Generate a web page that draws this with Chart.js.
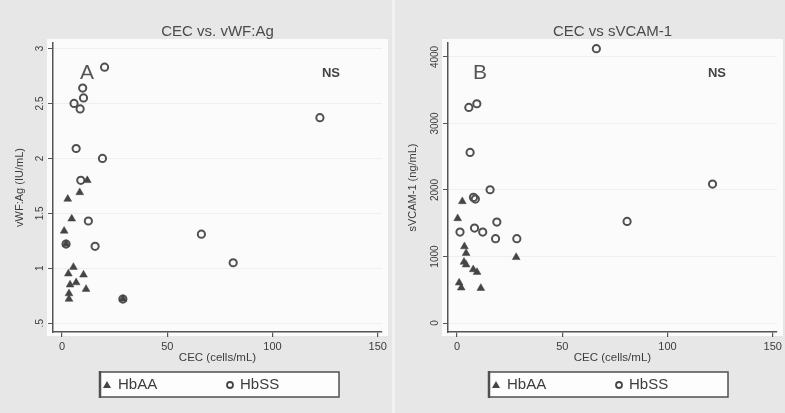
<!DOCTYPE html>
<html>
<head>
<meta charset="utf-8">
<script src="https://cdn.jsdelivr.net/npm/chart.js@4/dist/chart.umd.min.js"></script>
<style>
html, body { margin: 0; padding: 0; background: #f2f2f2; }
#wrap { position: relative; width: 785px; height: 413px; overflow: hidden; }
.panel { position: absolute; top: 0; height: 413px; background: #e7e7e7; }
</style>
</head>
<body>
<div id="wrap">
  <div class="panel" style="left:0;width:392px"><canvas id="chartA" width="392" height="413"></canvas></div>
  <div class="panel" style="left:395px;width:390px"><canvas id="chartB" width="390" height="413"></canvas></div>
</div>
<script>
// shared x axis
const cecTicks = [0, 50, 100, 150]

// Panel A : CEC vs vWF:Ag
const aaCecA = [12, 2.7, 8.4, 4.6, 1.0, 1.9, 5.4, 3.0, 10.2, 6.7, 3.8, 11.4, 3.3, 3.3, 28.9]
const aaVwf  = [1.80, 1.63, 1.69, 1.45, 1.34, 1.22, 1.01, 0.95, 0.94, 0.87, 0.85, 0.81, 0.77, 0.72, 0.72]
const ssCecA = [20.2, 9.8, 10.2, 5.7, 8.6, 6.7, 19.2, 8.9, 12.5, 15.7, 1.9, 66.2, 81.3, 122.5, 28.9]
const ssVwf  = [2.83, 2.64, 2.55, 2.50, 2.45, 2.09, 2.00, 1.80, 1.43, 1.20, 1.22, 1.31, 1.05, 2.37, 0.72]
const vwfTicks = [0.5, 1, 1.5, 2, 2.5, 3]
const vwfTickLabels = ['.5', '1', '1.5', '2', '2.5', '3']

// Panel B : CEC vs sVCAM-1
const aaCecB = [2.5, 0.3, 3.5, 4.3, 3.3, 4.3, 7.7, 9.5, 1.0, 2.0, 11.3, 28.1]
const aaVcam = [1828, 1572, 1150, 1050, 917, 877, 805, 765, 605, 530, 524, 988]
const ssCecB = [66.2, 5.6, 9.4, 6.2, 15.7, 7.8, 8.7, 121.4, 80.8, 18.9, 1.4, 8.3, 12.2, 18.3, 28.4]
const ssVcam = [4125, 3242, 3297, 2565, 2004, 1889, 1864, 2089, 1528, 1518, 1368, 1428, 1368, 1268, 1268]
const vcamTicks = [0, 1000, 2000, 3000, 4000]

const ink = '#454545'
const font = 'Liberation Sans, Arial, sans-serif'

function pts(xs, ys) {
    return xs.map((x, i) => ({x: x, y: ys[i]}))
}

// draws the white plot region, title, panel letter, NS and the boxed legend
const panelPlugin = {
    id: 'panel',
    beforeDraw(chart, args, opts) {
        const ctx = chart.ctx
        const a = chart.chartArea
        ctx.save()
        ctx.fillStyle = '#fbfbfb'
        ctx.fillRect(a.left - 6, a.top - 4, a.right - a.left + 12, a.bottom - a.top + 8)
        ctx.restore()
    },
    afterDraw(chart, args, opts) {
        const ctx = chart.ctx
        const a = chart.chartArea
        ctx.save()
        ctx.fillStyle = '#4a4a4a'
        ctx.textAlign = 'center'
        ctx.textBaseline = 'middle'
        ctx.font = '15px ' + font
        ctx.fillText(opts.title, (a.left + a.right) / 2, 32)

        ctx.fillStyle = '#555'
        ctx.font = '21px ' + font
        ctx.fillText(opts.letter, opts.letterX, 73)
        ctx.fillStyle = '#444'
        ctx.font = 'bold 13px ' + font
        ctx.fillText('NS', opts.nsX, 73)

        // legend box
        const lx = opts.legendX, ly = 372, lw = 239, lh = 25
        ctx.fillStyle = '#fdfdfd'
        ctx.fillRect(lx, ly, lw, lh)
        ctx.strokeStyle = '#505050'
        ctx.lineWidth = 1.5
        ctx.strokeRect(lx, ly, lw, lh)
        ctx.lineWidth = 2.5
        ctx.beginPath()
        ctx.moveTo(lx, ly - 1); ctx.lineTo(lx, ly + lh + 1)
        ctx.stroke()

        const ds = chart.data.datasets
        ctx.fillStyle = ink
        ctx.beginPath()
        ctx.moveTo(lx + 7, ly + 9); ctx.lineTo(lx + 11, ly + 16); ctx.lineTo(lx + 3, ly + 16)
        ctx.closePath(); ctx.fill()
        ctx.strokeStyle = ink
        ctx.lineWidth = 1.8
        ctx.beginPath()
        ctx.arc(lx + 130, ly + 13, 3, 0, Math.PI * 2)
        ctx.stroke()

        ctx.fillStyle = '#3c3c3c'
        ctx.textAlign = 'left'
        ctx.font = '15px ' + font
        ctx.fillText(ds[0].label, lx + 18, ly + 13)
        ctx.fillText(ds[1].label, lx + 140, ly + 13)
        ctx.restore()
    }
}

function makeChart(id, cfg) {
    return new Chart(document.getElementById(id), {
        type: 'scatter',
        data: {
            datasets: [{
                label: 'HbAA',
                data: cfg.aa,
                pointStyle: 'triangle',
                radius: 4.5,
                backgroundColor: ink,
                borderColor: ink,
                borderWidth: 0.5
            }, {
                label: 'HbSS',
                data: cfg.ss,
                pointStyle: 'circle',
                radius: 3.6,
                backgroundColor: 'rgba(0,0,0,0)',
                borderColor: '#505050',
                borderWidth: 2
            }]
        },
        options: {
            responsive: false,
            animation: false,
            layout: {padding: {top: 43, right: cfg.padRight, bottom: 44, left: 0}},
            plugins: {
                legend: {display: false},
                tooltip: {enabled: false},
                panel: cfg.panel
            },
            scales: {
                x: {
                    type: 'linear',
                    min: -4.3,
                    max: 152,
                    afterBuildTicks: s => { s.ticks = cecTicks.map(v => ({value: v})) },
                    afterFit: s => { s.height = 37 },
                    border: {color: '#555', width: 1.5},
                    grid: {display: true, drawOnChartArea: false, tickLength: 5, color: '#555', lineWidth: 1.2},
                    ticks: {color: '#3c3c3c', font: {family: font, size: 11}, padding: 3, maxRotation: 0},
                    title: {display: true, text: 'CEC (cells/mL)', color: '#3c3c3c', font: {family: font, size: 11.5}, padding: {top: 0}}
                },
                y: {
                    type: 'linear',
                    min: cfg.yMin,
                    max: cfg.yMax,
                    afterBuildTicks: s => { s.ticks = cfg.yTicks.map(v => ({value: v})) },
                    afterFit: s => { s.width = 53 },
                    border: {color: '#555', width: 1.5},
                    grid: {color: '#efefef', tickColor: '#555', tickLength: 5, lineWidth: 1},
                    ticks: {
                        color: '#3c3c3c',
                        font: {family: font, size: 10},
                        minRotation: 90,
                        maxRotation: 90,
                        crossAlign: 'center',
                        padding: cfg.yPad,
                        callback: cfg.yLabel
                    },
                    title: {display: true, text: cfg.yTitle, color: '#3c3c3c', font: {family: font, size: 11}, padding: {top: cfg.yTitlePad, bottom: 0}}
                }
            }
        },
        plugins: [panelPlugin]
    })
}

makeChart('chartA', {
    aa: pts(aaCecA, aaVwf),
    ss: pts(ssCecA, ssVwf),
    yMin: 0.42, yMax: 3.05,
    yTicks: vwfTicks,
    yLabel: (v) => vwfTickLabels[vwfTicks.indexOf(v)],
    yTitle: 'vWF:Ag (IU/mL)',
    yPad: 1,
    yTitlePad: 13,
    padRight: 10,
    panel: {title: 'CEC vs. vWF:Ag', letter: 'A', letterX: 87, nsX: 331, legendX: 100}
})

makeChart('chartB', {
    aa: pts(aaCecB, aaVcam),
    ss: pts(ssCecB, ssVcam),
    yMin: -135, yMax: 4210,
    yTicks: vcamTicks,
    yLabel: (v) => String(v),
    yTitle: 'sVCAM-1 (ng/mL)',
    yPad: -3,
    yTitlePad: 11,
    padRight: 8,
    panel: {title: 'CEC vs sVCAM-1', letter: 'B', letterX: 85, nsX: 322, legendX: 94}
})
</script>
</body>
</html>
